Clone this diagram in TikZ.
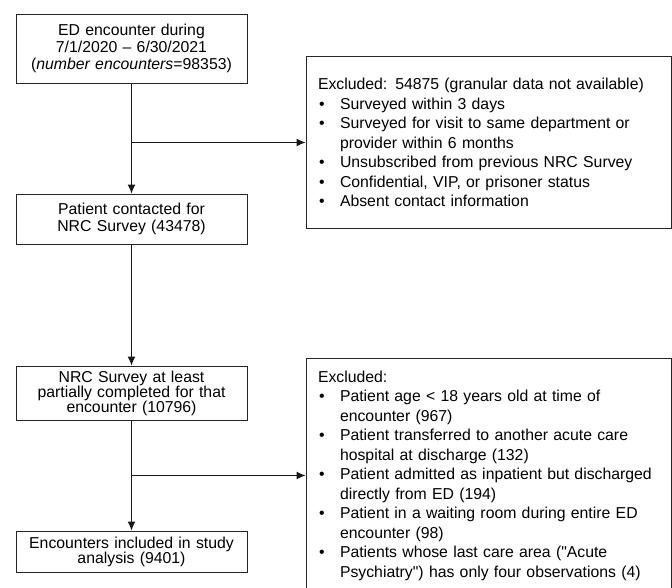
\documentclass[tikz,border=0pt]{standalone}
\usepackage{fontspec}
\setmainfont{Liberation Sans}
\usetikzlibrary{arrows.meta,positioning,calc}

% bullet line with hanging indent
\newcommand{\exclitem}[1]{\par\hangindent=22pt\hangafter=1\noindent\hbox to 22pt{\hskip1pt\textbullet\hfil}#1\par}

\begin{document}
\begin{tikzpicture}[
    x=1pt, y=1pt,
    box/.style={rectangle, draw=black!85, line width=1pt, text width=225pt, inner xsep=3pt, inner ysep=1pt, align=center, font=\fontsize{15.8}{16.7}\selectfont},
    tightbox/.style={box, font=\fontsize{15.8}{15}\selectfont},
    exclbox/.style={rectangle, draw=black!85, line width=1pt, text width=341pt, inner xsep=12pt, inner ysep=0pt, align=left, font=\fontsize{15.8}{19.5}\selectfont},
    arrow/.style={-{Latex[length=9pt,width=8pt]}, line width=1pt, black!90}
]
    \useasboundingbox (0,0) rectangle (672,-587);

    \node[box, minimum height=69pt] (enc) at (131.5,-48.5) {ED encounter during\\7/1/2020 -- 6/30/2021\\(\textit{number encounters}=98353)};
    \node[box, minimum height=50pt, below=110pt of enc] (contact) {Patient contacted for\\NRC Survey (43478)};
    \node[tightbox, minimum height=54pt, below=121pt of contact] (partial) {NRC Survey at least\\partially completed for that\\encounter (10796)};
    \node[tightbox, minimum height=41pt, below=110pt of partial] (incl) {Encounters included in study\\analysis (9401)};

    \coordinate[below=59pt of enc.south] (br1);
    \coordinate[below=55pt of partial.south] (br2);

    \node[exclbox, minimum height=172pt, right=174pt of br1] (excl1) {Excluded: 54875 (granular data not available)
        \exclitem{Surveyed within 3 days}
        \exclitem{Surveyed for visit to same department or\newline provider within 6 months}
        \exclitem{Unsubscribed from previous NRC Survey}
        \exclitem{Confidential, VIP, or prisoner status}
        \exclitem{Absent contact information}};
    \node[exclbox, minimum height=234pt, right=174pt of br2] (excl2) {Excluded:
        \exclitem{Patient age < 18 years old at time of\newline encounter (967)}
        \exclitem{Patient transferred to another acute care\newline hospital at discharge (132)}
        \exclitem{Patient admitted as inpatient but discharged\newline directly from ED (194)}
        \exclitem{Patient in a waiting room during entire ED\newline encounter (98)}
        \exclitem{Patients whose last care area (\textquotedbl Acute\newline Psychiatry\textquotedbl) has only four observations (4)}};

    \draw[arrow] (enc) -- (contact);
    \draw[arrow] (contact) -- (partial);
    \draw[arrow] (partial) -- (incl);
    \draw[arrow] (br1) -- (excl1);
    \draw[arrow] (br2) -- (excl2);
\end{tikzpicture}
\end{document}
